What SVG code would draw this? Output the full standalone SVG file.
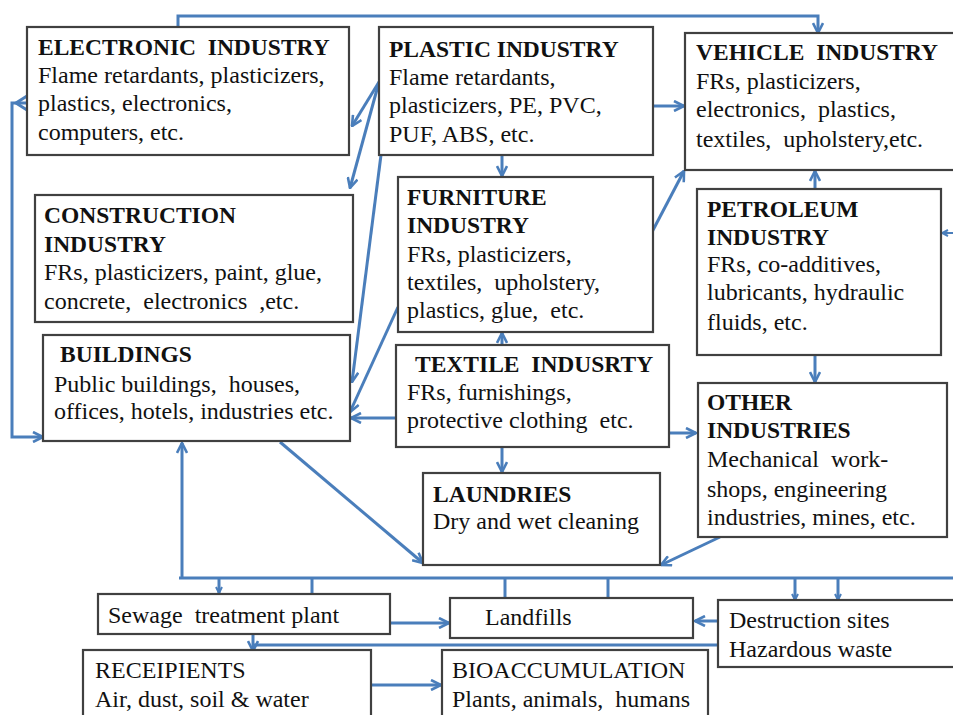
<svg xmlns="http://www.w3.org/2000/svg" width="953" height="715" viewBox="0 0 953 715">
  <style>
    .box { fill: #ffffff; stroke: #404040; stroke-width: 2.2; }
    .t { font-family: "Liberation Serif", "DejaVu Serif", serif; font-size: 24px; fill: #111; white-space: pre; }
    .b { font-weight: bold; font-size: 23.5px; }
    .c { fill: none; stroke: #4a7ebb; stroke-width: 3; stroke-linejoin: miter; }
    .thin { stroke-width: 2; }
  </style>
  <defs>
    <marker id="arr" viewBox="0 0 12 12" refX="11" refY="6" markerWidth="12" markerHeight="12" markerUnits="userSpaceOnUse" orient="auto">
      <path d="M1,1 L11,6 L1,11" fill="none" stroke="#4a7ebb" stroke-width="2.6"/>
    </marker>
    <marker id="arrs" viewBox="0 0 8 8" refX="7" refY="4" markerWidth="8" markerHeight="8" markerUnits="userSpaceOnUse" orient="auto">
      <path d="M1,1 L7,4 L1,7" fill="none" stroke="#4a7ebb" stroke-width="2"/>
    </marker>
  </defs>
  <rect width="953" height="715" fill="#ffffff"/>

  <g id="connectors">
    <path class="c" d="M178,27 V16 H818 V33" marker-end="url(#arr)"/>
    <path class="c" d="M27,103 H12 V437 H43" marker-end="url(#arr)"/>
    <polyline class="c" points="27,96 16,103 27,110"/>
    <path class="c" d="M379,82 L352,126" marker-end="url(#arr)"/>
    <path class="c" d="M379,82 L350,188" marker-end="url(#arr)"/>
    <path class="c" d="M381,155 L352,382" marker-end="url(#arr)"/>
    <path class="c" d="M398,307 L350,412" marker-end="url(#arr)"/>
    <path class="c" d="M396,418 H351" marker-end="url(#arr)"/>
    <path class="c" d="M653,106 H684" marker-end="url(#arr)"/>
    <path class="c" d="M502,155 V176" marker-end="url(#arr)"/>
    <path class="c" d="M652,232 L684,171" marker-end="url(#arr)"/>
    <path class="c" d="M502,345 V333" marker-end="url(#arr)"/>
    <path class="c" d="M669,433 H696" marker-end="url(#arr)"/>
    <path class="c" d="M502,447 V472" marker-end="url(#arr)"/>
    <path class="c" d="M815,189 V171" marker-end="url(#arr)"/>
    <path class="c" d="M815,355 V382" marker-end="url(#arr)"/>
    <path class="c thin" d="M953,233 H942" marker-end="url(#arrs)"/>
    <path class="c" d="M280,442 L423,563" marker-end="url(#arr)"/>
    <path class="c" d="M720,537 L661,565" marker-end="url(#arr)"/>
    <path class="c" d="M179,578 H953"/>
    <path class="c" d="M182,578 V443" marker-end="url(#arr)"/>
    <path class="c" d="M219,578 V593" marker-end="url(#arrs)"/>
    <path class="c" d="M312,578 V594"/>
    <path class="c" d="M505,578 V598"/>
    <path class="c" d="M608,578 V598"/>
    <path class="c" d="M795,578 V600" marker-end="url(#arrs)"/>
    <path class="c" d="M838,578 V600" marker-end="url(#arrs)"/>
    <path class="c" d="M390,623 H449" marker-end="url(#arr)"/>
    <path class="c" d="M718,621 H695" marker-end="url(#arr)"/>
    <path class="c" d="M718,645 H253"/>
    <path class="c" d="M253,634 V651" marker-end="url(#arr)"/>
    <path class="c" d="M371,685 H441" marker-end="url(#arr)"/>
  </g>

  <g id="electronic">
    <rect class="box" x="27" y="27" width="322" height="128"/>
    <text class="t b" x="38" y="55">ELECTRONIC  INDUSTRY</text>
    <text class="t" x="38" y="83">Flame retardants, plasticizers,</text>
    <text class="t" x="38" y="111">plastics, electronics,</text>
    <text class="t" x="38" y="140">computers, etc.</text>
  </g>
  <g id="plastic">
    <rect class="box" x="379" y="27" width="274" height="128"/>
    <text class="t b" x="389" y="57">PLASTIC INDUSTRY</text>
    <text class="t" x="389" y="85">Flame retardants,</text>
    <text class="t" x="389" y="113">plasticizers, PE, PVC,</text>
    <text class="t" x="389" y="142">PUF, ABS, etc.</text>
  </g>
  <g id="vehicle">
    <rect class="box" x="685" y="33" width="275" height="137"/>
    <text class="t b" x="696" y="60">VEHICLE  INDUSTRY</text>
    <text class="t" x="696" y="89">FRs, plasticizers,</text>
    <text class="t" x="696" y="117">electronics,  plastics,</text>
    <text class="t" x="696" y="147">textiles,  upholstery,etc.</text>
  </g>
  <g id="construction">
    <rect class="box" x="35" y="195" width="318" height="127"/>
    <text class="t b" x="44" y="223">CONSTRUCTION</text>
    <text class="t b" x="44" y="252">INDUSTRY</text>
    <text class="t" x="44" y="280">FRs, plasticizers, paint, glue,</text>
    <text class="t" x="44" y="309">concrete,  electronics  ,etc.</text>
  </g>
  <g id="furniture">
    <rect class="box" x="398" y="177" width="255" height="155"/>
    <text class="t b" x="407" y="205">FURNITURE</text>
    <text class="t b" x="407" y="233">INDUSTRY</text>
    <text class="t" x="407" y="262">FRs, plasticizers,</text>
    <text class="t" x="407" y="290">textiles,  upholstery,</text>
    <text class="t" x="407" y="318">plastics, glue,  etc.</text>
  </g>
  <g id="petroleum">
    <rect class="box" x="697" y="189" width="244" height="166"/>
    <text class="t b" x="707" y="217">PETROLEUM</text>
    <text class="t b" x="707" y="245">INDUSTRY</text>
    <text class="t" x="707" y="272">FRs, co-additives,</text>
    <text class="t" x="707" y="300">lubricants, hydraulic</text>
    <text class="t" x="707" y="330">fluids, etc.</text>
  </g>
  <g id="buildings">
    <rect class="box" x="43" y="335" width="307" height="106"/>
    <text class="t b" x="60" y="362">BUILDINGS</text>
    <text class="t" x="54" y="392">Public buildings,  houses,</text>
    <text class="t" x="54" y="419">offices, hotels, industries etc.</text>
  </g>
  <g id="textile">
    <rect class="box" x="396" y="345" width="273" height="102"/>
    <text class="t b" x="415" y="372">TEXTILE  INDUSRTY</text>
    <text class="t" x="407" y="400">FRs, furnishings,</text>
    <text class="t" x="407" y="428">protective clothing  etc.</text>
  </g>
  <g id="other">
    <rect class="box" x="698" y="383" width="249" height="154"/>
    <text class="t b" x="707" y="410">OTHER</text>
    <text class="t b" x="707" y="438">INDUSTRIES</text>
    <text class="t" x="707" y="467">Mechanical  work-</text>
    <text class="t" x="707" y="497">shops, engineering</text>
    <text class="t" x="707" y="525">industries, mines, etc.</text>
  </g>
  <g id="laundries">
    <rect class="box" x="423" y="473" width="237" height="92"/>
    <text class="t b" x="433" y="502">LAUNDRIES</text>
    <text class="t" x="433" y="529">Dry and wet cleaning</text>
  </g>
  <g id="sewage">
    <rect class="box" x="98" y="594" width="292" height="40"/>
    <text class="t" x="108" y="623">Sewage  treatment plant</text>
  </g>
  <g id="landfills">
    <rect class="box" x="450" y="598" width="243" height="40"/>
    <text class="t" x="485" y="625">Landfills</text>
  </g>
  <g id="destruction">
    <rect class="box" x="718" y="600" width="242" height="67"/>
    <text class="t" x="729" y="628">Destruction sites</text>
    <text class="t" x="729" y="657">Hazardous waste</text>
  </g>
  <g id="receipients">
    <rect class="box" x="83" y="650" width="288" height="75"/>
    <text class="t" x="95" y="678">RECEIPIENTS</text>
    <text class="t" x="95" y="707">Air, dust, soil &amp; water</text>
  </g>
  <g id="bioaccumulation">
    <rect class="box" x="442" y="650" width="266" height="75"/>
    <text class="t" x="452" y="678">BIOACCUMULATION</text>
    <text class="t" x="452" y="707">Plants, animals,  humans</text>
  </g>
</svg>
